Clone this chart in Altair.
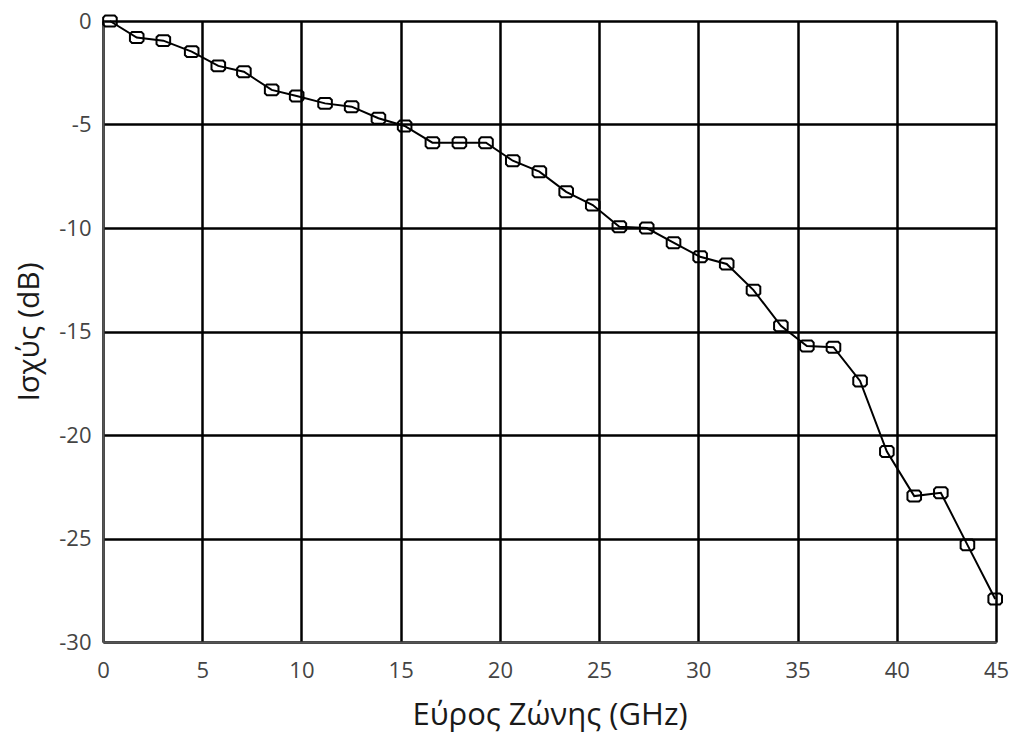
import altair as alt
import pandas as pd

# Frequency response samples: bandwidth (GHz) vs power (dB)
bandwidth_ghz = [0.35, 1.7, 3.04, 4.47, 5.81, 7.1, 8.5, 9.76, 11.19, 12.53,
                 13.88, 15.2, 16.6, 17.96, 19.3, 20.65, 21.99, 23.34, 24.68,
                 26.02, 27.4, 28.75, 30.09, 31.43, 32.78, 34.16, 35.47, 36.81,
                 38.15, 39.5, 40.88, 42.22, 43.56, 44.96]
power_db = [0.0, -0.8, -0.95, -1.48, -2.17, -2.45, -3.33, -3.62, -3.98, -4.14,
            -4.7, -5.07, -5.88, -5.88, -5.88, -6.75, -7.28, -8.25, -8.89,
            -9.94, -10.0, -10.71, -11.39, -11.74, -13.0, -14.73, -15.7, -15.76,
            -17.39, -20.8, -22.95, -22.79, -25.31, -27.92]

x_ticks = [0, 5, 10, 15, 20, 25, 30, 35, 40, 45]
y_ticks = [0, -5, -10, -15, -20, -25, -30]

df = pd.DataFrame({"bw": bandwidth_ghz, "p": power_db})

FONT = "Open Sans"

x_enc = alt.X(
    "bw:Q",
    title="Εύρος Ζώνης (GHz)",
    scale=alt.Scale(domain=[0, 45], nice=False, zero=False),
    axis=alt.Axis(values=x_ticks, labelExpr="toString(datum.value)",
                  labelPadding=18, titlePadding=19, labelFlush=False,
                  titleFontSize=31),
)
y_enc = alt.Y(
    "p:Q",
    title="Ισχύς (dB)",
    scale=alt.Scale(domain=[-30, 0], nice=False, zero=False),
    axis=alt.Axis(values=y_ticks, labelExpr="toString(datum.value)",
                  labelPadding=12, titlePadding=14, labelFlush=False),
)

base = alt.Chart(df).encode(x=x_enc, y=y_enc)

line = base.mark_line(color="black", strokeWidth=2)

# rounded-rectangle outline marker
marker_path = ("M-0.7,-0.8 L0.7,-0.8 L1,-0.5 L1,0.5 L0.7,0.8 "
               "L-0.7,0.8 L-1,0.5 L-1,-0.5 Z")
points = base.mark_point(
    shape=marker_path, size=185, filled=False, color="black",
    strokeWidth=2, opacity=1,
)

chart = (
    alt.layer(line, points)
    .properties(
        width=893,
        height=621,
        padding={"left": 103, "top": 21, "right": 16, "bottom": 97},
        autosize=alt.AutoSizeParams(type="none"),
        background="white",
    )
    .configure_view(strokeWidth=0)
    .configure_axis(
        grid=True,
        gridColor="black",
        gridWidth=2.5,
        gridOpacity=1,
        domainColor="#555555",
        domainWidth=2,
        ticks=False,
        labelFont=FONT,
        labelFontSize=22,
        labelColor="#444444",
        titleFont=FONT,
        titleFontSize=30,
        titleFontWeight="normal",
        titleColor="#1a1a1a",
    )
)

chart.save("out.html", embed_options={"renderer": "svg", "actions": False})
